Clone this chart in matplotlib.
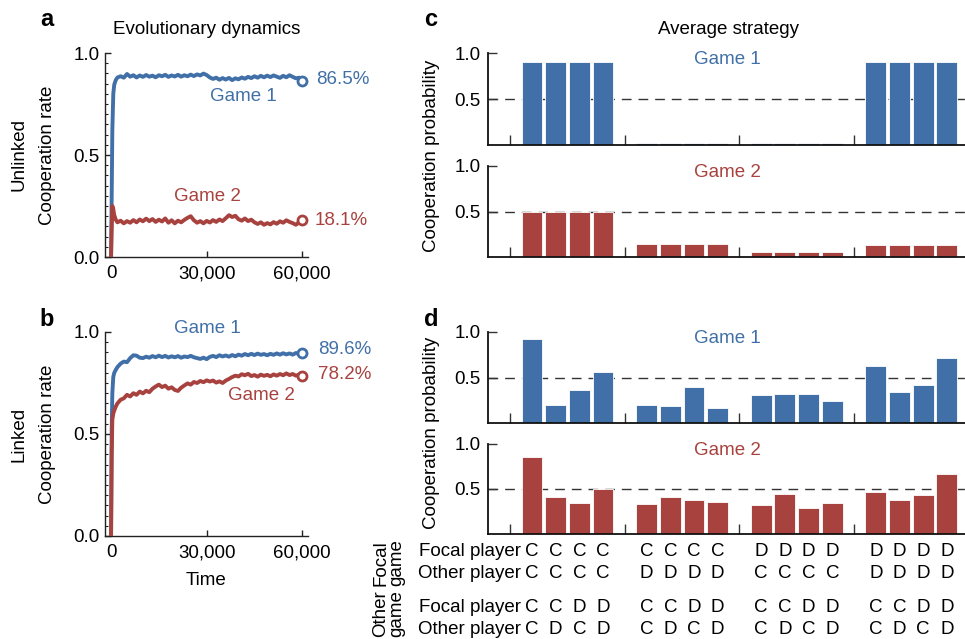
import matplotlib
matplotlib.use("Agg")
import matplotlib.pyplot as plt
from matplotlib.ticker import MultipleLocator, FixedLocator
from matplotlib.transforms import blended_transform_factory

plt.rcParams['font.family'] = ['Liberation Sans', 'DejaVu Sans']
plt.rcParams['font.size'] = 13.5

BLUE = "#4170a8"
RED = "#a8423f"

# Evolutionary dynamics (time grid shared by all four traces)
TIME = [0, 200, 400, 700, 1000, 1500, 2000, 3000, 4000, 5000, 6000, 7000, 8000, 9000,
        10000, 11000, 12000, 13000, 14000, 15000, 16000, 17000, 18000, 19000, 20000,
        21000, 22000, 23000, 24000, 25000, 26000, 27000, 28000, 29000, 30000, 31000,
        32000, 33000, 34000, 35000, 36000, 37000, 38000, 39000, 40000, 41000, 42000,
        43000, 44000, 45000, 46000, 47000, 48000, 49000, 50000, 51000, 52000, 53000,
        54000, 55000, 56000, 57000, 58000, 59000, 60000]

unlinked_game1 = [0.0, 0.30, 0.62, 0.80, 0.845, 0.868, 0.880, 0.886, 0.879, 0.897, 0.884,
                  0.891, 0.880, 0.890, 0.883, 0.892, 0.884, 0.889, 0.881, 0.891, 0.886,
                  0.893, 0.883, 0.890, 0.885, 0.893, 0.884, 0.891, 0.886, 0.894, 0.887,
                  0.895, 0.890, 0.899, 0.892, 0.880, 0.873, 0.879, 0.869, 0.877, 0.870,
                  0.878, 0.867, 0.876, 0.871, 0.880, 0.874, 0.883, 0.877, 0.886, 0.879,
                  0.888, 0.881, 0.889, 0.882, 0.890, 0.884, 0.878, 0.888, 0.881, 0.891,
                  0.883, 0.876, 0.879, 0.865]
unlinked_game2 = [0.0, 0.14, 0.25, 0.235, 0.205, 0.182, 0.170, 0.178, 0.165, 0.176, 0.168,
                  0.181, 0.170, 0.184, 0.175, 0.188, 0.176, 0.186, 0.172, 0.183, 0.174,
                  0.189, 0.168, 0.180, 0.165, 0.178, 0.170, 0.182, 0.192, 0.200, 0.180,
                  0.168, 0.176, 0.165, 0.177, 0.169, 0.181, 0.172, 0.184, 0.176, 0.190,
                  0.205, 0.196, 0.202, 0.185, 0.178, 0.189, 0.176, 0.183, 0.170, 0.162,
                  0.170, 0.158, 0.166, 0.160, 0.171, 0.163, 0.175, 0.168, 0.180, 0.172,
                  0.166, 0.158, 0.170, 0.181]
linked_game1 = [0.0, 0.52, 0.70, 0.78, 0.80, 0.815, 0.828, 0.845, 0.855, 0.852, 0.872,
                0.886, 0.884, 0.874, 0.872, 0.879, 0.874, 0.882, 0.876, 0.884, 0.877,
                0.883, 0.875, 0.881, 0.876, 0.882, 0.874, 0.880, 0.877, 0.883, 0.876,
                0.872, 0.868, 0.874, 0.867, 0.878, 0.883, 0.877, 0.886, 0.880, 0.885,
                0.879, 0.887, 0.881, 0.889, 0.884, 0.892, 0.886, 0.893, 0.887, 0.894,
                0.888, 0.892, 0.886, 0.893, 0.888, 0.895, 0.889, 0.896, 0.890, 0.895,
                0.889, 0.897, 0.892, 0.896]
linked_game2 = [0.0, 0.40, 0.57, 0.60, 0.615, 0.635, 0.650, 0.668, 0.675, 0.692, 0.684,
                0.700, 0.692, 0.708, 0.699, 0.712, 0.705, 0.722, 0.733, 0.742, 0.730,
                0.737, 0.722, 0.729, 0.716, 0.711, 0.727, 0.738, 0.748, 0.742, 0.755,
                0.750, 0.760, 0.754, 0.763, 0.757, 0.762, 0.752, 0.758, 0.750, 0.762,
                0.770, 0.779, 0.786, 0.782, 0.793, 0.788, 0.795, 0.784, 0.789, 0.781,
                0.791, 0.785, 0.790, 0.783, 0.792, 0.786, 0.794, 0.788, 0.797, 0.789,
                0.794, 0.786, 0.791, 0.782]

# Average strategy: 4 groups x 4 bars
unlinked_strat_game1 = [0.90, 0.90, 0.90, 0.90, 0.02, 0.02, 0.02, 0.02,
                        0.02, 0.02, 0.02, 0.02, 0.90, 0.90, 0.90, 0.90]
unlinked_strat_game2 = [0.49, 0.49, 0.49, 0.49, 0.146, 0.146, 0.146, 0.146,
                        0.052, 0.052, 0.052, 0.052, 0.135, 0.135, 0.135, 0.135]
linked_strat_game1 = [0.92, 0.194, 0.366, 0.56, 0.194, 0.183, 0.396, 0.168,
                      0.304, 0.322, 0.322, 0.245, 0.623, 0.337, 0.414, 0.711]
linked_strat_game2 = [0.856, 0.415, 0.341, 0.496, 0.333, 0.407, 0.374, 0.356,
                      0.319, 0.441, 0.285, 0.341, 0.467, 0.381, 0.433, 0.667]

focal_game_focal = ["C", "C", "C", "C", "C", "C", "C", "C", "D", "D", "D", "D", "D", "D", "D", "D"]
focal_game_other = ["C", "C", "C", "C", "D", "D", "D", "D", "C", "C", "C", "C", "D", "D", "D", "D"]
other_game_focal = ["C", "C", "D", "D"] * 4
other_game_other = ["C", "D", "C", "D"] * 4

W, H = 965, 639
GROUP_GAP = 4.84


def fx(px):
    return px / W


def fy(px):
    return 1 - px / H


def style_dynamics(ax):
    for s in ['top', 'right']:
        ax.spines[s].set_visible(False)
    for s in ['left', 'bottom']:
        ax.spines[s].set_color('#222222')
        ax.spines[s].set_linewidth(1.0)
    ax.set_xlim(-1900, 61800)
    ax.set_ylim(0, 1.0)
    ax.set_xticks([0, 30000, 60000])
    ax.set_xticklabels(["0", "30,000", "60,000"])
    ax.set_yticks([0, 0.5, 1.0])
    ax.set_yticklabels(["0.0", "0.5", "1.0"])
    ax.yaxis.set_minor_locator(MultipleLocator(0.05))
    ax.tick_params(which='major', direction='in', length=4, width=1, color='#222222', pad=4)
    ax.tick_params(axis='x', pad=6)
    ax.tick_params(which='minor', direction='in', length=2, width=0.8, color='#222222')
    ax.xaxis.set_minor_locator(FixedLocator([]))


def draw_series(ax, vals, color):
    ax.plot(TIME, vals, color=color, lw=2.8, solid_joinstyle='round', zorder=3)
    ax.plot(TIME[-1], vals[-1], 'o', mfc='white', mec=color, ms=6.5, mew=2.0,
            clip_on=False, zorder=5)


def draw_bars(ax, vals, color, label):
    xs = [g * GROUP_GAP + i for g in range(4) for i in range(4)]
    ax.axhline(0.5, color='#333333', lw=1.0, dashes=(7, 5), zorder=0)
    ax.bar(xs, vals, width=0.88, color=color, edgecolor='white', linewidth=0.6, zorder=2)
    ax.set_xlim(-1.86, 19.3)
    ax.set_ylim(0, 1.0)
    ax.set_yticks([0.5, 1.0])
    ax.set_yticklabels(["0.5", "1.0"])
    ax.set_xticks([g * GROUP_GAP - 0.93 for g in range(5)])
    ax.set_xticklabels([])
    for s in ['top', 'right']:
        ax.spines[s].set_visible(False)
    for s in ['left', 'bottom']:
        ax.spines[s].set_color('#111111')
        ax.spines[s].set_linewidth(1.3)
    ax.tick_params(axis='y', direction='in', length=6.5, width=1, color='#333333', pad=5.5)
    ax.tick_params(axis='x', direction='in', length=7, width=1, color='#333333')
    ax.text(8.27, 0.93, label, color=color, ha='center', va='center', fontsize=13.5)
    return xs


def main():
    fig = plt.figure(figsize=(9.65, 6.39), dpi=100)

    # left: evolutionary dynamics
    ax_a = fig.add_axes([fx(105), fy(257), fx(203), 204 / H])
    ax_b = fig.add_axes([fx(105), fy(536), fx(203), 204 / H])
    for ax in (ax_a, ax_b):
        style_dynamics(ax)

    draw_series(ax_a, unlinked_game1, BLUE)
    draw_series(ax_a, unlinked_game2, RED)
    draw_series(ax_b, linked_game1, BLUE)
    draw_series(ax_b, linked_game2, RED)

    ax_a.text(64500, 0.868, "86.5%", color=BLUE, ha='left', va='center')
    ax_a.text(64000, 0.181, "18.1%", color=RED, ha='left', va='center')
    ax_a.text(41400, 0.789, "Game 1", color=BLUE, ha='center', va='center')
    ax_a.text(30100, 0.299, "Game 2", color=RED, ha='center', va='center')

    ax_b.text(65000, 0.915, "89.6%", color=BLUE, ha='left', va='center')
    ax_b.text(64800, 0.792, "78.2%", color=RED, ha='left', va='center')
    ax_b.text(30100, 1.015, "Game 1", color=BLUE, ha='center', va='center')
    ax_b.text(47100, 0.691, "Game 2", color=RED, ha='center', va='center')
    ax_b.set_xlabel("Time", labelpad=8)

    fig.text(fx(207), fy(29), "Evolutionary dynamics", ha='center', va='center')
    fig.text(fx(19), fy(155), "Unlinked", rotation=90, ha='center', va='center')
    fig.text(fx(47), fy(155), "Cooperation rate", rotation=90, ha='center', va='center')
    fig.text(fx(19), fy(434), "Linked", rotation=90, ha='center', va='center')
    fig.text(fx(47), fy(434), "Cooperation rate", rotation=90, ha='center', va='center')

    # right: average strategy (axes run past the right edge like the original crop)
    bw = 501 / W
    ax_c1 = fig.add_axes([fx(488), fy(145), bw, 92 / H])
    ax_c2 = fig.add_axes([fx(488), fy(257), bw, 91 / H])
    ax_d1 = fig.add_axes([fx(488), fy(423), bw, 91 / H])
    ax_d2 = fig.add_axes([fx(488), fy(534), bw, 90 / H])
    draw_bars(ax_c1, unlinked_strat_game1, BLUE, "Game 1")
    draw_bars(ax_c2, unlinked_strat_game2, RED, "Game 2")
    draw_bars(ax_d1, linked_strat_game1, BLUE, "Game 1")
    xs = draw_bars(ax_d2, linked_strat_game2, RED, "Game 2")

    fig.text(fx(728), fy(29), "Average strategy", ha='center', va='center')
    fig.text(fx(432), fy(156), "Cooperation probability", rotation=90, ha='center', va='center')
    fig.text(fx(432), fy(433), "Cooperation probability", rotation=90, ha='center', va='center')

    # condition table below panel d
    tr = blended_transform_factory(ax_d2.transData, fig.transFigure)
    rows = [(552, "Focal player", focal_game_focal),
            (574, "Other player", focal_game_other),
            (607, "Focal player", other_game_focal),
            (629, "Other player", other_game_other)]
    for ypx, name, letters in rows:
        ax_d2.text(xs[0] - 0.45, fy(ypx), name, transform=tr, ha='right', va='center')
        for x, ch in zip(xs, letters):
            ax_d2.text(x, fy(ypx), ch, transform=tr, ha='center', va='center')
    fig.text(fx(389), fy(563), "Focal\ngame", rotation=90, ha='center', va='center',
             linespacing=0.95)
    fig.text(fx(389), fy(614), "Other\ngame", rotation=90, ha='center', va='center',
             linespacing=0.95)

    # panel letters
    for x, y, lab in [(47, 20, "a"), (47, 320, "b"), (431, 20, "c"), (431, 320, "d")]:
        fig.text(fx(x), fy(y), lab, fontsize=17, fontweight='bold', ha='center', va='center')

    fig.savefig("out.png", dpi=100)
    plt.close(fig)


if __name__ == "__main__":
    main()
